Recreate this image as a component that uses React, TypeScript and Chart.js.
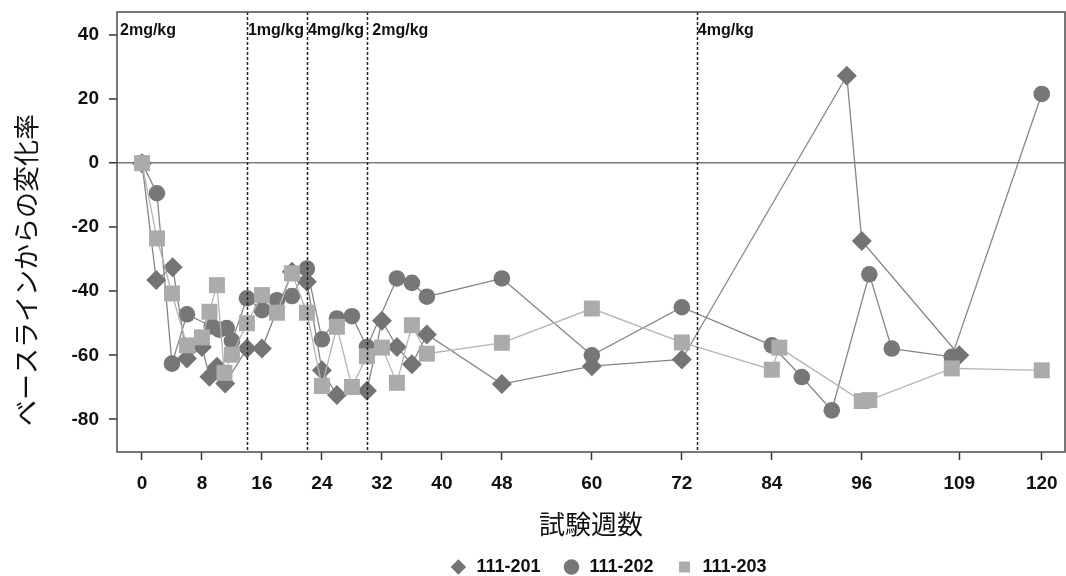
import React, { useEffect, useRef } from 'react';
import { Chart, registerables } from 'chart.js';

Chart.register(...registerables);

// ---- data ----
const seriesNames = ['111-201', '111-202', '111-203'];

const weeks201 = [0, 1.9, 4.1, 6, 8, 9, 10, 11.1, 14, 16, 20, 22, 24, 26, 30, 32, 34, 36, 38, 48, 60, 72, 94, 96, 109];
const values201 = [0, -36.5, -32.5, -61, -57.4, -66.7, -63.6, -68.8, -57.9, -57.9, -33.9, -37, -64.7, -72.4, -71.1, -49.2, -57.4, -62.8, -53.5, -69, -63.4, -61.3, 27.3, -24.3, -60];

const weeks202 = [0, 2, 4, 6, 9.3, 10.3, 11.3, 12, 14, 16, 18, 20, 22, 24, 26, 28, 30, 34, 36, 38, 48, 60, 72, 84, 88, 92, 97, 100, 108, 120];
const values202 = [0, -9.4, -62.6, -47.2, -51, -52, -51.5, -55.5, -42.2, -45.9, -42.8, -41.5, -32.9, -55, -48.5, -47.8, -57.4, -36, -37.4, -41.7, -36, -60, -45, -56.9, -66.8, -77.2, -34.7, -57.9, -60.5, 21.6];

const weeks203 = [0, 2, 4, 6, 8, 9, 10, 11, 12, 14, 16, 18, 20, 22, 24, 26, 28, 30, 32, 34, 36, 38, 48, 60, 72, 84, 85, 96, 97, 108, 120];
const values203 = [0, -23.5, -40.7, -56.9, -54.4, -46.4, -38.1, -65.5, -59.8, -50, -41.2, -46.7, -34.4, -46.7, -69.6, -51.1, -69.9, -60.3, -57.6, -68.6, -50.6, -59.5, -56.1, -45.4, -56, -64.5, -57.6, -74.3, -74, -64.1, -64.7];

const xTickValues = [0, 8, 16, 24, 32, 40, 48, 60, 72, 84, 96, 109, 120];
const yTickValues = [-80, -60, -40, -20, 0, 20, 40];

const doseChangeWeeks = [14, 22, 30, 74];
const doseLabels = ['2mg/kg', '1mg/kg', '4mg/kg', ' 2mg/kg', '4mg/kg'];

const xTitle = '試験週数';
const yTitle = '\u3000ベースラインからの変化率';

// ---- styling ----
const LATIN = "'Liberation Sans', Arial, sans-serif";
const CJK = "'Noto Sans CJK JP', sans-serif";

const toPoints = (xs: number[], ys: number[]) => xs.map((x, i) => ({ x, y: ys[i] }));

const noPadding = () => ({ left: 0, top: 0, right: 0, bottom: 0 });

const frameAndDosePlugin = {
  id: 'frameAndDose',
  afterDatasetsDraw(chart: any) {
    const { ctx, chartArea, scales } = chart;
    const xs = scales.x;
    ctx.save();
    ctx.strokeStyle = '#222';
    ctx.lineWidth = 1.5;
    ctx.setLineDash([3, 2]);
    doseChangeWeeks.forEach((w) => {
      const px = Math.round(xs.getPixelForValue(w)) + 0.5;
      ctx.beginPath();
      ctx.moveTo(px, chartArea.top);
      ctx.lineTo(px, chartArea.bottom);
      ctx.stroke();
    });
    ctx.setLineDash([]);
    ctx.fillStyle = '#111';
    ctx.font = `bold 16px ${LATIN}`;
    ctx.textAlign = 'left';
    ctx.textBaseline = 'alphabetic';
    doseLabels.forEach((lab, i) => {
      const px = i === 0 ? chartArea.left + 3 : xs.getPixelForValue(doseChangeWeeks[i - 1]) + 1;
      ctx.fillText(lab, px, chartArea.top + 23);
    });
    ctx.strokeStyle = '#555';
    ctx.lineWidth = 1.6;
    ctx.strokeRect(chartArea.left, chartArea.top, chartArea.right - chartArea.left, chartArea.bottom - chartArea.top);
    ctx.restore();
  },
};

const legendPlacer = {
  id: 'legendPlacer',
  afterLayout(chart: any) {
    const lg = chart.legend;
    if (!lg) return;
    const dx = 608 - (lg.left + lg.right) / 2;
    lg.left += dx;
    lg.right += dx;
    lg.top = 536;
    lg.bottom = 576;
    lg.height = 40;
  },
};

export default function App() {
  const canvasRef = useRef<HTMLCanvasElement | null>(null);

  useEffect(() => {
    if (!canvasRef.current) return;
    const mk = (label: string, data: any[], style: string, radius: number, color: string, line: string, order: number) => ({
      label,
      data,
      showLine: true,
      fill: false,
      order,
      borderColor: line,
      borderWidth: 1.3,
      backgroundColor: color,
      pointStyle: style,
      pointRadius: radius,
      pointHoverRadius: radius,
      pointBackgroundColor: color,
      pointBorderColor: color,
      pointBorderWidth: 0,
      tension: 0,
    });

    const chart = new Chart(canvasRef.current, {
      type: 'scatter',
      data: {
        datasets: [
          mk(seriesNames[0], toPoints(weeks201, values201), 'rectRot', 10, '#747474', '#858585', 2),
          mk(seriesNames[1], toPoints(weeks202, values202), 'circle', 8.3, '#777777', '#858585', 3),
          mk(seriesNames[2], toPoints(weeks203, values203), 'rect', 11.3, '#ababab', '#b5b5b5', 1),
        ] as any,
      },
      options: {
        responsive: false,
        animation: false,
        devicePixelRatio: 1,
        layout: { autoPadding: false, padding: { left: 0, top: 12, right: 1, bottom: 0 } },
        plugins: {
          tooltip: { enabled: false },
          legend: {
            display: true,
            position: 'bottom',
            maxHeight: 2,
            labels: {
              usePointStyle: true,
              boxHeight: 11,
              boxWidth: 18,
              padding: 22,
              color: '#111',
              font: { family: LATIN, size: 18, weight: 'bold' },
              sort: (a: any, b: any) => a.datasetIndex - b.datasetIndex,
              generateLabels: (chart: any) =>
                (Chart.defaults.plugins.legend.labels as any)
                  .generateLabels(chart)
                  .map((l: any) => ({ ...l, lineWidth: 0, strokeStyle: l.fillStyle })),
            },
          } as any,
        },
        scales: {
          x: {
            type: 'linear',
            min: -3.33,
            max: 123.1,
            afterBuildTicks: (s: any) => {
              s.ticks = xTickValues.map((v) => ({ value: v }));
            },
            afterFit: (s: any) => {
              s.height = 122;
              s.paddingLeft = 0;
              s.paddingRight = 0;
              s.paddingTop = 0;
              s.paddingBottom = 0;
              s.getPadding = noPadding;
            },
            grid: {
              drawOnChartArea: false,
              drawTicks: true,
              tickLength: 8,
              tickColor: '#333',
              tickWidth: 1.5,
            },
            border: { display: false },
            ticks: {
              padding: 12,
              color: '#111',
              font: { family: LATIN, size: 19, weight: 'bold' },
              maxRotation: 0,
              autoSkip: false,
              callback: (v: any) => String(v),
            },
            title: {
              display: true,
              text: xTitle,
              color: '#111',
              font: { family: CJK, size: 26, weight: 'normal' },
              padding: { top: 0, bottom: 34 },
            },
          },
          y: {
            type: 'linear',
            min: -90.2,
            max: 47.2,
            afterBuildTicks: (s: any) => {
              s.ticks = yTickValues.map((v) => ({ value: v }));
            },
            afterFit: (s: any) => {
              s.width = 117;
              s.paddingLeft = 0;
              s.paddingRight = 0;
              s.paddingTop = 0;
              s.paddingBottom = 0;
              s.getPadding = noPadding;
            },
            grid: {
              drawOnChartArea: true,
              drawTicks: true,
              tickLength: 8,
              tickColor: '#333',
              tickWidth: 1.5,
              lineWidth: (c: any) => (c.tick && c.tick.value === 0 ? 1.5 : 0),
              color: (c: any) => (c.tick && c.tick.value === 0 ? '#7a7a7a' : 'rgba(0,0,0,0)'),
            },
            border: { display: false },
            ticks: {
              padding: 10,
              color: '#111',
              font: { family: LATIN, size: 19, weight: 'bold' },
              callback: (v: any) => String(v),
            },
            title: {
              display: true,
              text: yTitle,
              align: 'start',
              color: '#111',
              font: { family: CJK, size: 26, weight: 'normal' },
              padding: { top: 11, bottom: 0 },
            },
          },
        },
      } as any,
      plugins: [frameAndDosePlugin, legendPlacer],
    });
    return () => chart.destroy();
  }, []);

  return (
    <div style={{ position: 'absolute', left: 0, top: 0, width: 1066, height: 576, background: '#fff' }}>
      <canvas ref={canvasRef} width={1066} height={576} style={{ display: 'block', width: 1066, height: 576 }} />
    </div>
  );
}
